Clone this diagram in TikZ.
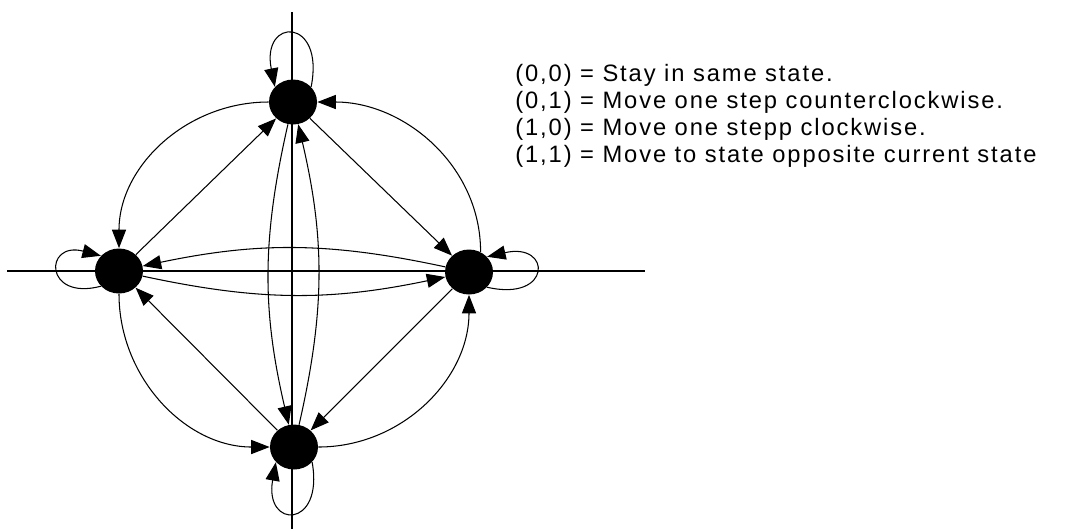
\documentclass[tikz,border=0pt]{standalone}
\usepackage{fontspec}
\setmainfont{Liberation Sans}[LetterSpace=8]
\usetikzlibrary{arrows.meta, shapes.geometric}

\begin{document}
\begin{tikzpicture}[x=0.02cm, y=0.02cm,
  dot/.style={ellipse, fill=black, inner sep=0pt, minimum width=0.96cm, minimum height=0.9cm},
  arr/.style={-{Triangle[length=10.5pt,width=8pt]}, line width=0.6pt},
  axis/.style={line width=0.6pt},
  key/.style={anchor=west, inner sep=0pt, font=\fontsize{13.5}{15}\selectfont}
]
\useasboundingbox (0,0) rectangle (1088,-529);
\draw[axis] (7,-271) -- (645,-271);
\draw[axis] (292,-12) -- (292,-529);

\node[dot] (sn) at (293,-102) {};
\node[dot] (sw) at (119,-271) {};
\node[dot] (se) at (469,-272) {};
\node[dot] (ss) at (294,-447) {};

\draw[arr] (sn.40) .. controls +(14,70) and +(-14,70) .. (sn.140);
\draw[arr] (sw.-140) .. controls +(-57,-15) and +(-57,15) .. (sw.140);
\draw[arr] (se.-40) .. controls +(65,-15) and +(65,15) .. (se.40);
\draw[arr] (ss.-40) .. controls +(12,-67) and +(-12,-67) .. (ss.-140);

\draw[arr] (sn) to[out=180, in=90] (sw);
\draw[arr] (sw) to[out=-90, in=180] (ss);
\draw[arr] (ss) to[out=0, in=-90] (se);
\draw[arr] (se.60) to[out=90, in=0] (sn);

\draw[arr] (sn) -- (se);
\draw[arr] (se) -- (ss);
\draw[arr] (ss) -- (sw);
\draw[arr] (sw) -- (sn);

\draw[arr] (sn) to[bend right=13] (ss);
\draw[arr] (ss) to[bend right=13] (sn);
\draw[arr] (se) to[bend right=12] (sw);
\draw[arr] (sw) to[bend right=12] (se);

\node[key] (k00) at (515,-75) {(0,0) = Stay in same state.};
\node[key] (k01) at (515,-102) {(0,1) = Move one step counterclockwise.};
\node[key] (k10) at (515,-129) {(1,0) = Move one stepp clockwise.};
\node[key] (k11) at (515,-156) {(1,1) = Move to state opposite current state};
\end{tikzpicture}
\end{document}
